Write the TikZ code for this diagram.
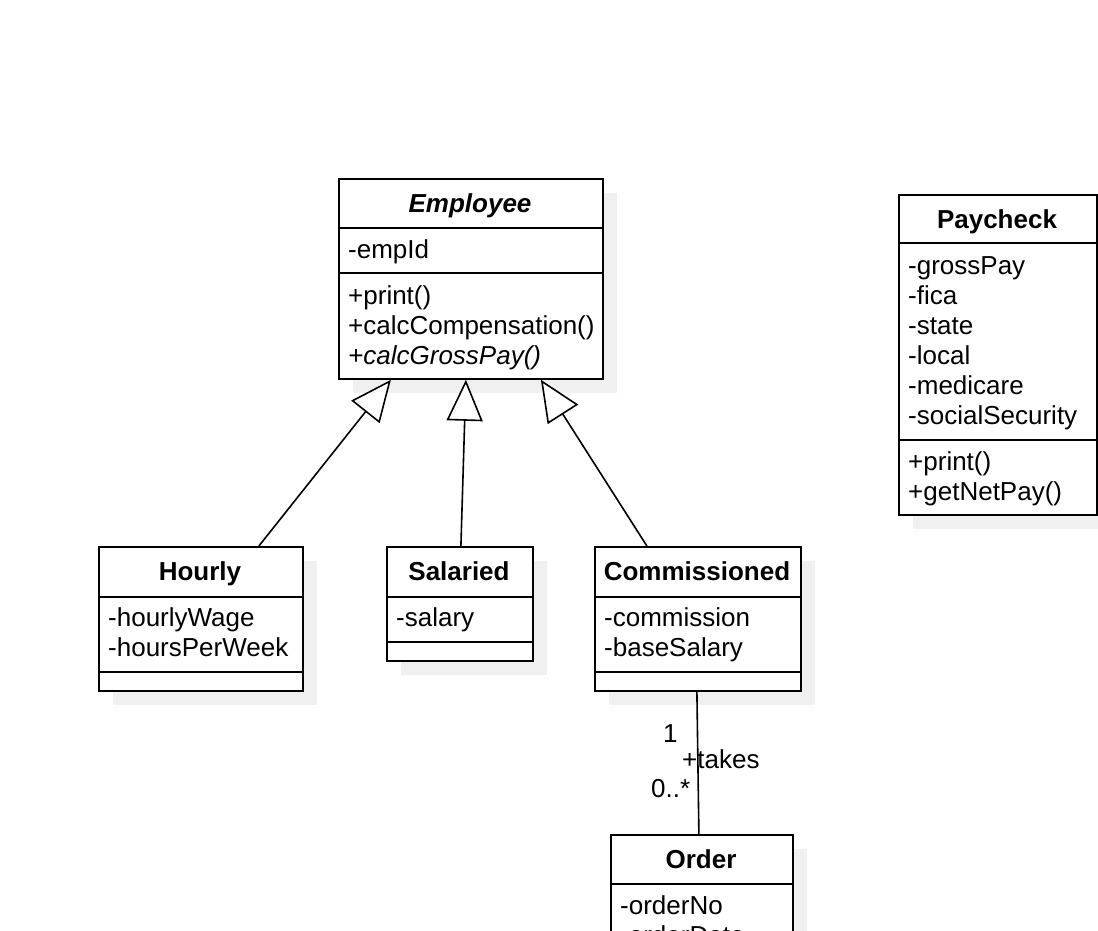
\documentclass[tikz,border=0pt]{standalone}
\usepackage{fontspec}
\setmainfont{Liberation Sans}
\usetikzlibrary{arrows.meta,shadows}
\begin{document}
\begin{tikzpicture}[x=1pt,y=-1pt,
  cls/.style={draw, line width=1.8pt, fill=white, inner sep=0pt, anchor=north west,
    drop shadow={shadow xshift=14pt, shadow yshift=-14pt, fill=black!6, draw=none, opacity=1}},
  sep/.style={line width=1.8pt},
  title/.style={font=\fontsize{26}{30}\selectfont\bfseries, inner sep=0pt, anchor=base},
  txt/.style={font=\fontsize{26}{30}\selectfont, inner sep=0pt, anchor=base west},
  inh/.style={line width=1.6pt, -{Triangle[open, length=41pt, width=36pt, fill=white]}},
  assoc/.style={line width=1.6pt},
  lbl/.style={font=\fontsize{26}{30}\selectfont, inner sep=0pt, anchor=base west}]
\path[use as bounding box, clip] (0,0) rectangle (1098,930);
\fill[white] (0,0) rectangle (1098,930);

% Employee
\node[cls, minimum width=264pt, minimum height=200pt] (emp) at (338,178) {};
\draw[sep] (emp.west |- 0,228) -- (emp.east |- 0,228);
\draw[sep] (emp.west |- 0,273) -- (emp.east |- 0,273);
\node[title, font=\fontsize{26}{30}\selectfont\bfseries\itshape] (empT) at (470,212) {Employee};
\node[txt] (empA1) at (348,258) {-empId};
\node[txt] (empM1) at (348,304) {+print()};
\node[txt] (empM2) at (348,334) {+calcCompensation()};
\node[txt, font=\fontsize{26}{30}\selectfont\itshape] (empM3) at (348,364) {+calcGrossPay()};

% Paycheck
\node[cls, minimum width=198pt, minimum height=320pt] (pay) at (898,194) {};
\draw[sep] (pay.west |- 0,243) -- (pay.east |- 0,243);
\draw[sep] (pay.west |- 0,440) -- (pay.east |- 0,440);
\node[title] (payT) at (997,228) {Paycheck};
\node[txt] (payA1) at (908,274) {-grossPay};
\node[txt] (payA2) at (908,304) {-fica};
\node[txt] (payA3) at (908,334) {-state};
\node[txt] (payA4) at (908,364) {-local};
\node[txt] (payA5) at (908,394) {-medicare};
\node[txt] (payA6) at (908,424) {-socialSecurity};
\node[txt] (payM1) at (908,470) {+print()};
\node[txt] (payM2) at (908,500) {+getNetPay()};

% Hourly
\node[cls, minimum width=204pt, minimum height=144pt] (hourly) at (98,546) {};
\draw[sep] (hourly.west |- 0,597) -- (hourly.east |- 0,597);
\draw[sep] (hourly.west |- 0,672) -- (hourly.east |- 0,672);
\node[title] (hourlyT) at (200,580) {Hourly};
\node[txt] (hourlyA1) at (108,626) {-hourlyWage};
\node[txt] (hourlyA2) at (108,656) {-hoursPerWeek};

% Salaried
\node[cls, minimum width=146pt, minimum height=114pt] (sal) at (386,546) {};
\draw[sep] (sal.west |- 0,597) -- (sal.east |- 0,597);
\draw[sep] (sal.west |- 0,642) -- (sal.east |- 0,642);
\node[title] (salT) at (459,580) {Salaried};
\node[txt] (salA1) at (396,626) {-salary};

% Commissioned
\node[cls, minimum width=206pt, minimum height=144pt] (comm) at (594,546) {};
\draw[sep] (comm.west |- 0,597) -- (comm.east |- 0,597);
\draw[sep] (comm.west |- 0,672) -- (comm.east |- 0,672);
\node[title] (commT) at (697,580) {Commissioned};
\node[txt] (commA1) at (604,626) {-commission};
\node[txt] (commA2) at (604,656) {-baseSalary};

% Order
\node[cls, minimum width=182pt, minimum height=200pt] (order) at (610,834) {};
\draw[sep] (order.west |- 0,884) -- (order.east |- 0,884);
\node[title] (orderT) at (701,868) {Order};
\node[txt] (orderA1) at (620,914) {-orderNo};
\node[txt] (orderA2) at (620,944) {-orderDate};

% Generalisations
\draw[inh] ([xshift=58pt]hourly.north) -- ([xshift=-80pt]emp.south);
\draw[inh] ([xshift=1pt]sal.north) -- ([xshift=-5pt]emp.south);
\draw[inh] ([xshift=-51pt]comm.north) -- ([xshift=70pt]emp.south);

% Association
\draw[assoc] ([xshift=-1pt]comm.south) -- ([xshift=-3pt]order.north);
\node[lbl] (m1) at (663,742) {1};
\node[lbl] (role) at (682,768) {+takes};
\node[lbl] (m2) at (651,797) {0..*};
\end{tikzpicture}
\end{document}
